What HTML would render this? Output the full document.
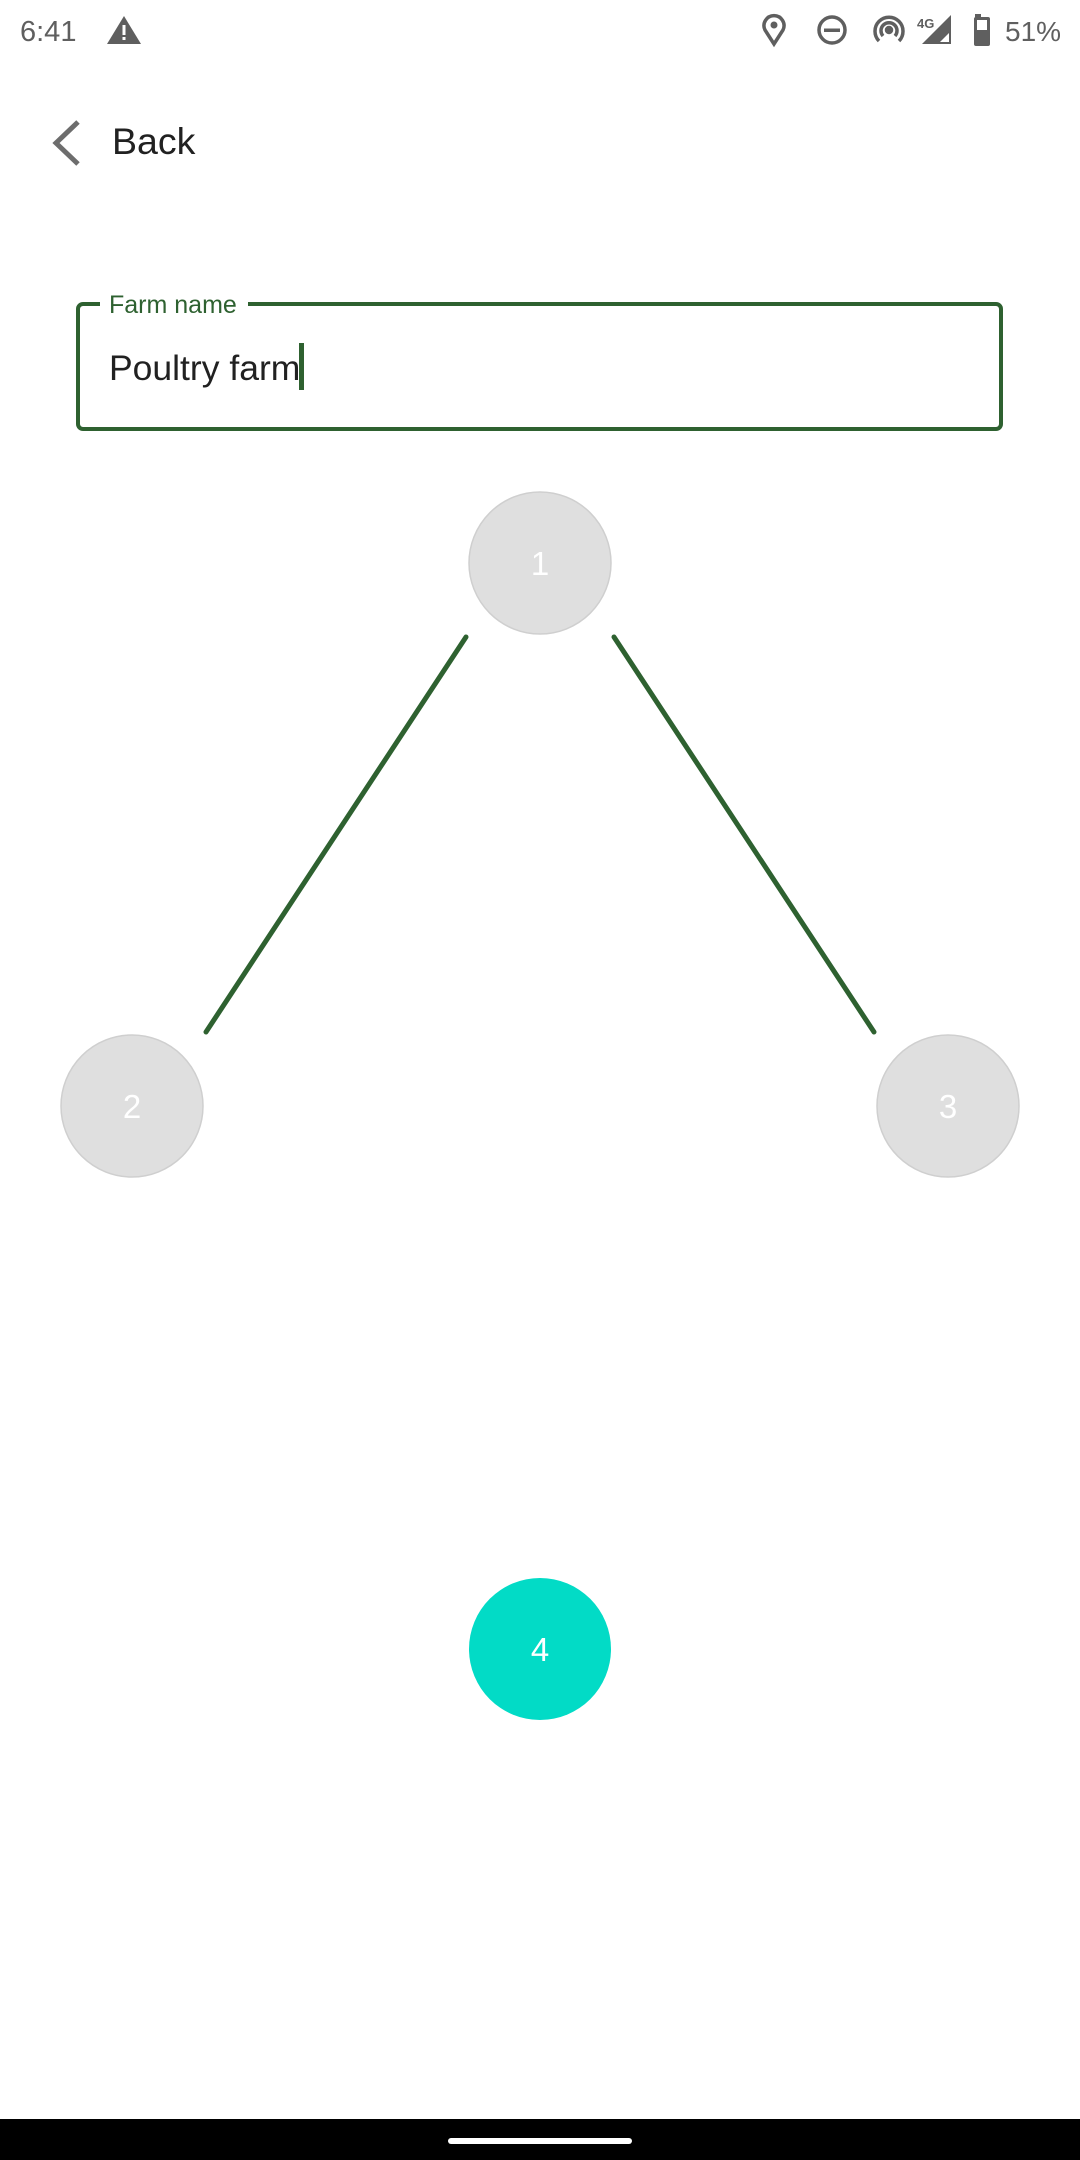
<!DOCTYPE html>
<html><head><meta charset="utf-8"><style>
html,body{margin:0;padding:0;width:1080px;height:2160px;background:#fff;overflow:hidden;font-family:"Liberation Sans",sans-serif}
svg{display:block}
</style></head><body>
<svg id="scr" width="1080" height="2160" viewBox="0 0 1080 2160">
  <g fill="#5f5f5f">
    <text x="20" y="41" font-size="29" fill="#5f5f5f">6:41</text>
    <g><polygon points="124,16 141,44 107,44" fill="#5f5f5f"/><rect x="122.5" y="25" width="3" height="10" fill="#fff"/><rect x="122.5" y="37" width="3" height="3" fill="#fff"/></g>
    <g><path d="M774,44 L765,30 A10,10 0 1 1 783,30 Z" fill="none" stroke="#5f5f5f" stroke-width="3.5"/><circle cx="774" cy="25" r="3.5"/></g>
    <g><circle cx="832" cy="30" r="13" fill="none" stroke="#5f5f5f" stroke-width="3.5"/><rect x="824" y="28.5" width="16" height="3.5"/></g>
    <g fill="none" stroke="#5f5f5f" stroke-width="3.5"><path d="M879,41 A14,14 0 1 1 899,41"/><path d="M883,36 A8,8 0 1 1 895,36"/><circle cx="889" cy="30" r="2.5" fill="#5f5f5f"/></g>
    <g><text x="917" y="28" font-size="13" font-weight="bold" fill="#5f5f5f">4G</text><polygon points="922,44 951,15 951,44" fill="#5f5f5f"/><polygon points="940,42 949,33 949,42" fill="#fff"/></g>
    <g><rect x="975" y="14" width="6" height="4"/><rect x="974" y="17" width="16" height="29" rx="2"/><rect x="977" y="20" width="10" height="10" fill="#fff"/></g>
    <text x="1005" y="41" font-size="28" fill="#5f5f5f">51%</text>
  </g>
  <g>
    <polyline points="78,122 56,143 78,164" fill="none" stroke="#6d6d6d" stroke-width="5"/>
    <text x="112" y="154" font-size="37.5" fill="#212121">Back</text>
  </g>
  <g>
    <rect x="78" y="304" width="923" height="125" rx="5" fill="none" stroke="#2e6130" stroke-width="4"/>
    <rect x="100" y="295" width="148" height="18" fill="#fff"/>
    <text x="109" y="313" font-size="25" fill="#2e6130">Farm name</text>
    <text x="109" y="380" font-size="35.5" fill="#212121">Poultry farm</text>
    <rect x="299" y="343" width="5" height="47" fill="#2e6130"/>
  </g>
  <g id="graph"></g>
  <rect x="0" y="2119" width="1080" height="41" fill="#000"/>
  <rect x="448" y="2138" width="184" height="6" rx="3" fill="#fff"/>
</svg>
<script>
const nodeLabels=["1","2","3","4"];
const nodeX=[540,132,948,540];
const nodeY=[563,1106,1106,1649];
const nodeActive=[false,false,false,true];
const edgeFrom=[0,0];
const edgeTo=[1,2];
const NS="http://www.w3.org/2000/svg";
const g=document.getElementById('graph');
const R=71;
edgeFrom.forEach((a,i)=>{
  const b=edgeTo[i];
  const sx=Math.sign(nodeX[b]-nodeX[a]), sy=Math.sign(nodeY[b]-nodeY[a]);
  const l=document.createElementNS(NS,'line');
  l.setAttribute('x1',nodeX[a]+sx*(R+3));l.setAttribute('y1',nodeY[a]+sy*(R+3));
  l.setAttribute('x2',nodeX[b]-sx*(R+3));l.setAttribute('y2',nodeY[b]-sy*(R+3));
  l.setAttribute('stroke','#2e6130');l.setAttribute('stroke-width','5');l.setAttribute('stroke-linecap','round');
  
  
  g.appendChild(l);
});
nodeLabels.forEach((t,i)=>{
  const grp=document.createElementNS(NS,'g');
  
  
  const c=document.createElementNS(NS,'circle');
  c.setAttribute('cx',nodeX[i]);c.setAttribute('cy',nodeY[i]);c.setAttribute('r',R);
  c.setAttribute('fill',nodeActive[i]?'#02dbc6':'#dfdfdf');
  if(!nodeActive[i]){c.setAttribute('stroke','#cfcfcf');c.setAttribute('stroke-width','1.5');}
  grp.appendChild(c);
  const tx=document.createElementNS(NS,'text');
  tx.setAttribute('x',nodeX[i]);tx.setAttribute('y',nodeY[i]+12);
  tx.setAttribute('text-anchor','middle');tx.setAttribute('font-size','33');tx.setAttribute('fill','#fff');
  tx.textContent=t;
  grp.appendChild(tx);
  g.appendChild(grp);
});
</script>
</body></html>
